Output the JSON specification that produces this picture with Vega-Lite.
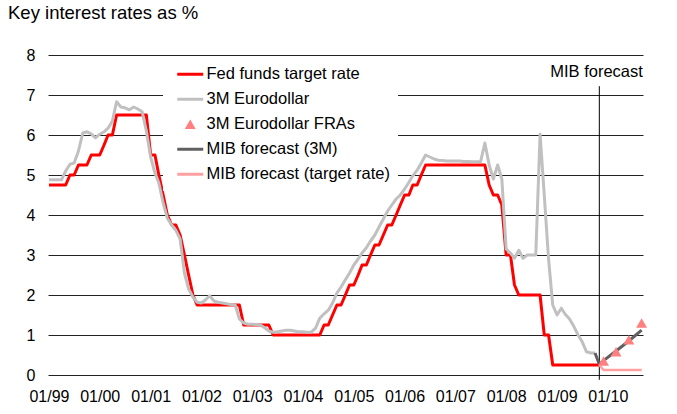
{
"$schema":"https://vega.github.io/schema/vega-lite/v6.json",
"width":595,"height":320,
"autosize":"none",
"padding":{"left":48,"top":55,"right":34,"bottom":39},
"background":"white",
"config":{"view":{"stroke":null},"font":"Liberation Sans"},
"title":{"text":"Key interest rates as %","anchor":"start","frame":"group","dx":-40,"fontSize":18.5,"fontWeight":"normal","font":"Liberation Sans","color":"black","baseline":"alphabetic","offset":10},
"data":{"values":[
{"d":"1999-01-01","s":"F","v":4.75},{"d":"1999-02-01","s":"F","v":4.75},{"d":"1999-03-01","s":"F","v":4.75},{"d":"1999-04-01","s":"F","v":4.75},{"d":"1999-05-01","s":"F","v":4.75},{"d":"1999-06-01","s":"F","v":5},{"d":"1999-07-01","s":"F","v":5},{"d":"1999-08-01","s":"F","v":5.25},{"d":"1999-09-01","s":"F","v":5.25},{"d":"1999-10-01","s":"F","v":5.25},{"d":"1999-11-01","s":"F","v":5.5},{"d":"1999-12-01","s":"F","v":5.5},
{"d":"2000-01-01","s":"F","v":5.5},{"d":"2000-02-01","s":"F","v":5.75},{"d":"2000-03-01","s":"F","v":6},{"d":"2000-04-01","s":"F","v":6},{"d":"2000-05-01","s":"F","v":6.5},{"d":"2000-06-01","s":"F","v":6.5},{"d":"2000-07-01","s":"F","v":6.5},{"d":"2000-08-01","s":"F","v":6.5},{"d":"2000-09-01","s":"F","v":6.5},{"d":"2000-10-01","s":"F","v":6.5},{"d":"2000-11-01","s":"F","v":6.5},{"d":"2000-12-01","s":"F","v":6.5},
{"d":"2001-01-01","s":"F","v":5.5},{"d":"2001-02-01","s":"F","v":5.5},{"d":"2001-03-01","s":"F","v":5},{"d":"2001-04-01","s":"F","v":4.5},{"d":"2001-05-01","s":"F","v":4},{"d":"2001-06-01","s":"F","v":3.75},{"d":"2001-07-01","s":"F","v":3.75},{"d":"2001-08-01","s":"F","v":3.5},{"d":"2001-09-01","s":"F","v":3},{"d":"2001-10-01","s":"F","v":2.5},{"d":"2001-11-01","s":"F","v":2},{"d":"2001-12-01","s":"F","v":1.75},
{"d":"2002-01-01","s":"F","v":1.75},{"d":"2002-02-01","s":"F","v":1.75},{"d":"2002-03-01","s":"F","v":1.75},{"d":"2002-04-01","s":"F","v":1.75},{"d":"2002-05-01","s":"F","v":1.75},{"d":"2002-06-01","s":"F","v":1.75},{"d":"2002-07-01","s":"F","v":1.75},{"d":"2002-08-01","s":"F","v":1.75},{"d":"2002-09-01","s":"F","v":1.75},{"d":"2002-10-01","s":"F","v":1.75},{"d":"2002-11-01","s":"F","v":1.25},{"d":"2002-12-01","s":"F","v":1.25},
{"d":"2003-01-01","s":"F","v":1.25},{"d":"2003-02-01","s":"F","v":1.25},{"d":"2003-03-01","s":"F","v":1.25},{"d":"2003-04-01","s":"F","v":1.25},{"d":"2003-05-01","s":"F","v":1.25},{"d":"2003-06-01","s":"F","v":1},{"d":"2003-07-01","s":"F","v":1},{"d":"2003-08-01","s":"F","v":1},{"d":"2003-09-01","s":"F","v":1},{"d":"2003-10-01","s":"F","v":1},{"d":"2003-11-01","s":"F","v":1},{"d":"2003-12-01","s":"F","v":1},
{"d":"2004-01-01","s":"F","v":1},{"d":"2004-02-01","s":"F","v":1},{"d":"2004-03-01","s":"F","v":1},{"d":"2004-04-01","s":"F","v":1},{"d":"2004-05-01","s":"F","v":1},{"d":"2004-06-01","s":"F","v":1.25},{"d":"2004-07-01","s":"F","v":1.25},{"d":"2004-08-01","s":"F","v":1.5},{"d":"2004-09-01","s":"F","v":1.75},{"d":"2004-10-01","s":"F","v":1.75},{"d":"2004-11-01","s":"F","v":2},{"d":"2004-12-01","s":"F","v":2.25},
{"d":"2005-01-01","s":"F","v":2.25},{"d":"2005-02-01","s":"F","v":2.5},{"d":"2005-03-01","s":"F","v":2.75},{"d":"2005-04-01","s":"F","v":2.75},{"d":"2005-05-01","s":"F","v":3},{"d":"2005-06-01","s":"F","v":3.25},{"d":"2005-07-01","s":"F","v":3.25},{"d":"2005-08-01","s":"F","v":3.5},{"d":"2005-09-01","s":"F","v":3.75},{"d":"2005-10-01","s":"F","v":3.75},{"d":"2005-11-01","s":"F","v":4},{"d":"2005-12-01","s":"F","v":4.25},
{"d":"2006-01-01","s":"F","v":4.5},{"d":"2006-02-01","s":"F","v":4.5},{"d":"2006-03-01","s":"F","v":4.75},{"d":"2006-04-01","s":"F","v":4.75},{"d":"2006-05-01","s":"F","v":5},{"d":"2006-06-01","s":"F","v":5.25},{"d":"2006-07-01","s":"F","v":5.25},{"d":"2006-08-01","s":"F","v":5.25},{"d":"2006-09-01","s":"F","v":5.25},{"d":"2006-10-01","s":"F","v":5.25},{"d":"2006-11-01","s":"F","v":5.25},{"d":"2006-12-01","s":"F","v":5.25},
{"d":"2007-01-01","s":"F","v":5.25},{"d":"2007-02-01","s":"F","v":5.25},{"d":"2007-03-01","s":"F","v":5.25},{"d":"2007-04-01","s":"F","v":5.25},{"d":"2007-05-01","s":"F","v":5.25},{"d":"2007-06-01","s":"F","v":5.25},{"d":"2007-07-01","s":"F","v":5.25},{"d":"2007-08-01","s":"F","v":5.25},{"d":"2007-09-01","s":"F","v":4.75},{"d":"2007-10-01","s":"F","v":4.5},{"d":"2007-11-01","s":"F","v":4.5},{"d":"2007-12-01","s":"F","v":4.25},
{"d":"2008-01-01","s":"F","v":3},{"d":"2008-02-01","s":"F","v":3},{"d":"2008-03-01","s":"F","v":2.25},{"d":"2008-04-01","s":"F","v":2},{"d":"2008-05-01","s":"F","v":2},{"d":"2008-06-01","s":"F","v":2},{"d":"2008-07-01","s":"F","v":2},{"d":"2008-08-01","s":"F","v":2},{"d":"2008-09-01","s":"F","v":2},{"d":"2008-10-01","s":"F","v":1},{"d":"2008-11-01","s":"F","v":1},{"d":"2008-12-01","s":"F","v":0.25},
{"d":"2009-01-01","s":"F","v":0.25},{"d":"2009-02-01","s":"F","v":0.25},{"d":"2009-03-01","s":"F","v":0.25},{"d":"2009-04-01","s":"F","v":0.25},{"d":"2009-05-01","s":"F","v":0.25},{"d":"2009-06-01","s":"F","v":0.25},{"d":"2009-07-01","s":"F","v":0.25},{"d":"2009-08-01","s":"F","v":0.25},{"d":"2009-09-01","s":"F","v":0.25},{"d":"2009-10-01","s":"F","v":0.25},{"d":"2009-11-01","s":"F","v":0.25},
{"d":"1999-01-01","s":"E","v":4.88},{"d":"1999-02-01","s":"E","v":4.88},{"d":"1999-03-01","s":"E","v":4.88},{"d":"1999-04-01","s":"E","v":4.88},{"d":"1999-05-01","s":"E","v":5.1},{"d":"1999-06-01","s":"E","v":5.27},{"d":"1999-07-01","s":"E","v":5.3},{"d":"1999-08-01","s":"E","v":5.6},{"d":"1999-09-01","s":"E","v":6.05},{"d":"1999-10-01","s":"E","v":6.08},{"d":"1999-11-01","s":"E","v":6.03},{"d":"1999-12-01","s":"E","v":5.93},
{"d":"2000-01-01","s":"E","v":6.02},{"d":"2000-02-01","s":"E","v":6.08},{"d":"2000-03-01","s":"E","v":6.17},{"d":"2000-04-01","s":"E","v":6.35},{"d":"2000-05-01","s":"E","v":6.83},{"d":"2000-06-01","s":"E","v":6.7},{"d":"2000-07-01","s":"E","v":6.68},{"d":"2000-08-01","s":"E","v":6.63},{"d":"2000-09-01","s":"E","v":6.7},{"d":"2000-10-01","s":"E","v":6.65},{"d":"2000-11-01","s":"E","v":6.58},{"d":"2000-12-01","s":"E","v":6.1},
{"d":"2001-01-01","s":"E","v":5.45},{"d":"2001-02-01","s":"E","v":5.05},{"d":"2001-03-01","s":"E","v":4.8},{"d":"2001-04-01","s":"E","v":4.3},{"d":"2001-05-01","s":"E","v":3.92},{"d":"2001-06-01","s":"E","v":3.75},{"d":"2001-07-01","s":"E","v":3.62},{"d":"2001-08-01","s":"E","v":3.4},{"d":"2001-09-01","s":"E","v":2.55},{"d":"2001-10-01","s":"E","v":2.15},{"d":"2001-11-01","s":"E","v":1.95},{"d":"2001-12-01","s":"E","v":1.82},
{"d":"2002-01-01","s":"E","v":1.8},{"d":"2002-02-01","s":"E","v":1.88},{"d":"2002-03-01","s":"E","v":1.98},{"d":"2002-04-01","s":"E","v":1.85},{"d":"2002-05-01","s":"E","v":1.82},{"d":"2002-06-01","s":"E","v":1.8},{"d":"2002-07-01","s":"E","v":1.78},{"d":"2002-08-01","s":"E","v":1.76},{"d":"2002-09-01","s":"E","v":1.75},{"d":"2002-10-01","s":"E","v":1.4},{"d":"2002-11-01","s":"E","v":1.3},{"d":"2002-12-01","s":"E","v":1.27},
{"d":"2003-01-01","s":"E","v":1.27},{"d":"2003-02-01","s":"E","v":1.26},{"d":"2003-03-01","s":"E","v":1.25},{"d":"2003-04-01","s":"E","v":1.18},{"d":"2003-05-01","s":"E","v":1.1},{"d":"2003-06-01","s":"E","v":1.07},{"d":"2003-07-01","s":"E","v":1.08},{"d":"2003-08-01","s":"E","v":1.1},{"d":"2003-09-01","s":"E","v":1.12},{"d":"2003-10-01","s":"E","v":1.12},{"d":"2003-11-01","s":"E","v":1.1},{"d":"2003-12-01","s":"E","v":1.08},
{"d":"2004-01-01","s":"E","v":1.08},{"d":"2004-02-01","s":"E","v":1.07},{"d":"2004-03-01","s":"E","v":1.07},{"d":"2004-04-01","s":"E","v":1.17},{"d":"2004-05-01","s":"E","v":1.42},{"d":"2004-06-01","s":"E","v":1.53},{"d":"2004-07-01","s":"E","v":1.62},{"d":"2004-08-01","s":"E","v":1.8},{"d":"2004-09-01","s":"E","v":2.05},{"d":"2004-10-01","s":"E","v":2.2},{"d":"2004-11-01","s":"E","v":2.38},{"d":"2004-12-01","s":"E","v":2.55},
{"d":"2005-01-01","s":"E","v":2.75},{"d":"2005-02-01","s":"E","v":2.9},{"d":"2005-03-01","s":"E","v":3.05},{"d":"2005-04-01","s":"E","v":3.18},{"d":"2005-05-01","s":"E","v":3.35},{"d":"2005-06-01","s":"E","v":3.5},{"d":"2005-07-01","s":"E","v":3.7},{"d":"2005-08-01","s":"E","v":3.9},{"d":"2005-09-01","s":"E","v":4.1},{"d":"2005-10-01","s":"E","v":4.25},{"d":"2005-11-01","s":"E","v":4.4},{"d":"2005-12-01","s":"E","v":4.5},
{"d":"2006-01-01","s":"E","v":4.65},{"d":"2006-02-01","s":"E","v":4.82},{"d":"2006-03-01","s":"E","v":4.98},{"d":"2006-04-01","s":"E","v":5.12},{"d":"2006-05-01","s":"E","v":5.3},{"d":"2006-06-01","s":"E","v":5.5},{"d":"2006-07-01","s":"E","v":5.45},{"d":"2006-08-01","s":"E","v":5.4},{"d":"2006-09-01","s":"E","v":5.37},{"d":"2006-10-01","s":"E","v":5.36},{"d":"2006-11-01","s":"E","v":5.35},{"d":"2006-12-01","s":"E","v":5.35},
{"d":"2007-01-01","s":"E","v":5.35},{"d":"2007-02-01","s":"E","v":5.35},{"d":"2007-03-01","s":"E","v":5.34},{"d":"2007-04-01","s":"E","v":5.34},{"d":"2007-05-01","s":"E","v":5.33},{"d":"2007-06-01","s":"E","v":5.33},{"d":"2007-07-01","s":"E","v":5.33},{"d":"2007-08-01","s":"E","v":5.8},{"d":"2007-09-01","s":"E","v":5.25},{"d":"2007-10-01","s":"E","v":4.9},{"d":"2007-11-01","s":"E","v":5.25},{"d":"2007-12-01","s":"E","v":4.9},
{"d":"2008-01-01","s":"E","v":3.15},{"d":"2008-02-01","s":"E","v":3.05},{"d":"2008-03-01","s":"E","v":2.92},{"d":"2008-04-01","s":"E","v":3.12},{"d":"2008-05-01","s":"E","v":2.92},{"d":"2008-06-01","s":"E","v":3},{"d":"2008-07-01","s":"E","v":3},{"d":"2008-08-01","s":"E","v":3},{"d":"2008-09-01","s":"E","v":6.02},{"d":"2008-10-01","s":"E","v":4.5},{"d":"2008-11-01","s":"E","v":2.9},{"d":"2008-12-01","s":"E","v":1.75},
{"d":"2009-01-01","s":"E","v":1.5},{"d":"2009-02-01","s":"E","v":1.67},{"d":"2009-03-01","s":"E","v":1.52},{"d":"2009-04-01","s":"E","v":1.4},{"d":"2009-05-01","s":"E","v":1.22},{"d":"2009-06-01","s":"E","v":1},{"d":"2009-07-01","s":"E","v":0.83},{"d":"2009-08-01","s":"E","v":0.58},{"d":"2009-09-01","s":"E","v":0.55},{"d":"2009-10-01","s":"E","v":0.55},
{"d":"2009-10-01","s":"M","v":0.55},{"d":"2009-11-01","s":"M","v":0.27},{"d":"2009-12-01","s":"M","v":0.36},{"d":"2010-03-01","s":"M","v":0.6},{"d":"2010-06-01","s":"M","v":0.85},{"d":"2010-09-01","s":"M","v":1.12},
{"d":"2009-11-01","s":"T","v":0.25},{"d":"2009-12-01","s":"T","v":0.125},{"d":"2010-09-01","s":"T","v":0.125},
{"d":"2009-12-01","s":"R","v":0.35},{"d":"2010-03-01","s":"R","v":0.58},{"d":"2010-06-01","s":"R","v":0.88},{"d":"2010-09-01","s":"R","v":1.3}
]},
"encoding":{
"x":{"field":"d","type":"temporal","scale":{"type":"utc","domain":[{"year":1998,"month":12,"date":25,"utc":true},{"year":2010,"month":9,"date":11,"utc":true}]},
"axis":{"title":null,"domain":false,"ticks":false,"tickSize":0,"grid":false,"labelPadding":13,"labelFontSize":16,"labelFont":"Liberation Sans","labelColor":"black","labelOverlap":false,"labelFlush":false,"labelExpr":"utcFormat(datum.value, '%m/%y')",
"values":[{"year":1999,"month":1,"date":1,"utc":true},{"year":2000,"month":1,"date":1,"utc":true},{"year":2001,"month":1,"date":1,"utc":true},{"year":2002,"month":1,"date":1,"utc":true},{"year":2003,"month":1,"date":1,"utc":true},{"year":2004,"month":1,"date":1,"utc":true},{"year":2005,"month":1,"date":1,"utc":true},{"year":2006,"month":1,"date":1,"utc":true},{"year":2007,"month":1,"date":1,"utc":true},{"year":2008,"month":1,"date":1,"utc":true},{"year":2009,"month":1,"date":1,"utc":true},{"year":2010,"month":1,"date":1,"utc":true}]}},
"y":{"field":"v","type":"quantitative","scale":{"domain":[0,8],"nice":false},
"axis":{"title":null,"domain":false,"ticks":false,"tickSize":0,"values":[0,1,2,3,4,5,6,7,8],"labelPadding":13,"labelFontSize":16,"labelFont":"Liberation Sans","labelColor":"black","grid":true,"gridColor":"#222222","gridWidth":1,"gridOpacity":1}}
},
"layer":[
{"data":{"values":[{"d":"2009-11-01","v":7.22,"v0":-0.12}]},"mark":{"type":"rule","color":"black","strokeWidth":1},"encoding":{"y2":{"field":"v0"}}},
{"transform":[{"filter":"datum.s == 'F'"}],"mark":{"type":"line","strokeWidth":3,"strokeJoin":"round"},
"encoding":{"color":{"field":"s","type":"nominal","scale":{"domain":["F","E","R","M","T"],"range":["#ff0000","#c0c0c0","#ff8080","#606060","#ffa0a0"]},
"legend":{"orient":"none","legendX":115,"legendY":3,"title":null,"fillColor":"white","padding":8,"symbolOffset":11,"labelFontSize":16.5,"labelFont":"Liberation Sans","labelColor":"black","labelLimit":300,"labelOffset":8,"rowPadding":8,"symbolType":"stroke","symbolSize":676,"symbolStrokeWidth":3,
"labelExpr":"datum.value == 'F' ? 'Fed funds target rate' : datum.value == 'E' ? '3M Eurodollar' : datum.value == 'R' ? '3M Eurodollar FRAs' : datum.value == 'M' ? 'MIB forecast (3M)' : 'MIB forecast (target rate)'",
"encode":{"symbols":{"update":{"shape":{"signal":"datum.value == 'R' ? 'triangle-up' : 'stroke'"},"size":{"signal":"datum.value == 'R' ? 120 : 676"},"fill":{"scale":"color","field":"value"},"stroke":{"scale":"color","field":"value"},"strokeWidth":{"signal":"datum.value == 'R' ? 0 : 3"},"opacity":{"value":1}}}}}}}},
{"transform":[{"filter":"datum.s == 'E'"}],"mark":{"type":"line","strokeWidth":3,"strokeJoin":"round"},"encoding":{"color":{"field":"s","type":"nominal"}}},
{"transform":[{"filter":"datum.s == 'M'"}],"mark":{"type":"line","strokeWidth":3,"strokeJoin":"round"},"encoding":{"color":{"field":"s","type":"nominal"}}},
{"transform":[{"filter":"datum.s == 'T'"}],"mark":{"type":"line","strokeWidth":2.5,"strokeJoin":"round"},"encoding":{"color":{"field":"s","type":"nominal"}}},
{"transform":[{"filter":"datum.s == 'R'"}],"mark":{"type":"point","shape":"triangle-up","filled":true,"size":120,"opacity":1},"encoding":{"color":{"field":"s","type":"nominal"}}},
{"data":{"values":[{"d":"2010-09-10","v":7.45,"t":"MIB forecast"}]},"mark":{"type":"text","align":"right","baseline":"alphabetic","fontSize":16.5,"font":"Liberation Sans","color":"black"},"encoding":{"text":{"field":"t"}}}
]
}
